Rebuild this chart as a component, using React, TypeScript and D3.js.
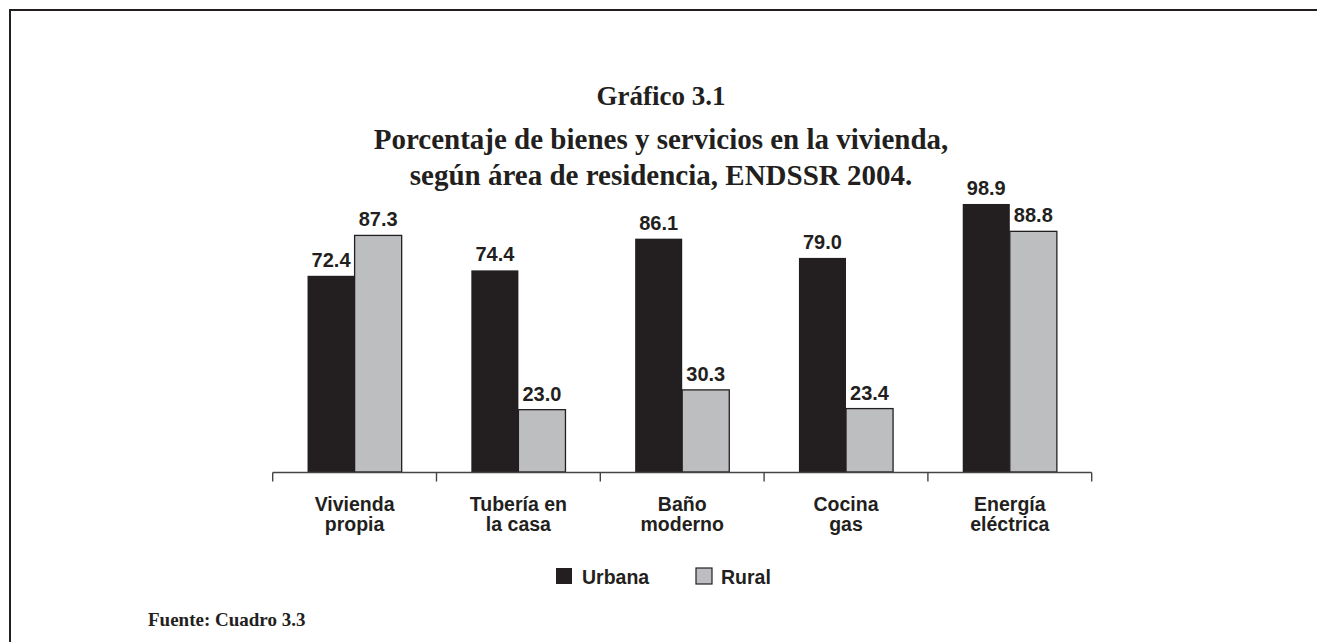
import React from "react";
import * as d3 from "d3";

const categories = ["Vivienda|propia", "Tubería en|la casa", "Baño|moderno", "Cocina|gas", "Energía|eléctrica"];
const seriesNames = ["Urbana", "Rural"];
const urbana = [72.4, 74.4, 86.1, 79.0, 98.9];
const rural = [87.3, 23.0, 30.3, 23.4, 88.8];
const titleLines = [
  "Gráfico 3.1",
  "Porcentaje de bienes y servicios en la vivienda,",
  "según área de residencia, ENDSSR 2004.",
];
const sourceText = "Fuente: Cuadro 3.3";

const W = 1317;
const H = 642;
const DARK = "#231f20";
const GRAY = "#bcbec0";
const SANS = "'Liberation Sans', Arial, Helvetica, sans-serif";
const SERIF = "'Liberation Serif', 'Times New Roman', serif";

export default function App() {
  const x = d3.scaleBand<string>().domain(categories).range([272.7, 1091.7]).padding(0);
  const x1 = d3.scaleBand<string>().domain(seriesNames).range([0, x.bandwidth()]).paddingInner(0).paddingOuter(0.74);
  const y = d3.scaleLinear().domain([0, 100]).range([472, 201]);
  const values: Record<string, number[]> = { Urbana: urbana, Rural: rural };
  const fills: Record<string, string> = { Urbana: DARK, Rural: GRAY };
  const axisY = 472.5;
  const tickXs = [...categories.map((c) => x(c)!), x(categories[categories.length - 1])! + x.bandwidth()];

  return (
    <svg width={W} height={H} style={{ position: "absolute", left: 0, top: 0, background: "#fff" }}>
      <rect x={0} y={0} width={W} height={H} fill="#fff" />
      <path d={`M10,${H} L10,10 L${W},10`} fill="none" stroke={DARK} strokeWidth={2} />
      <g fontFamily={SERIF} fontWeight="bold" fill={DARK} textAnchor="middle">
        <text x={661} y={105} fontSize={27}>{titleLines[0]}</text>
        <text x={661} y={149} fontSize={29}>{titleLines[1]}</text>
        <text x={661} y={185} fontSize={29}>{titleLines[2]}</text>
      </g>
      {categories.map((c, i) => (
        <g key={c} transform={`translate(${x(c)},0)`}>
          {seriesNames.map((s) => {
            const v = values[s][i];
            const bx = x1(s)!;
            const bw = x1.bandwidth();
            return (
              <g key={s}>
                <rect
                  x={bx}
                  y={y(v)}
                  width={bw}
                  height={y(0) - y(v)}
                  fill={fills[s]}
                  stroke={s === "Rural" ? DARK : "none"}
                  strokeWidth={1.3}
                />
                <text
                  x={bx + bw / 2}
                  y={y(v) - 9}
                  textAnchor="middle"
                  fontFamily={SANS}
                  fontWeight="bold"
                  fontSize={20}
                  fill={DARK}
                >
                  {v.toFixed(1)}
                </text>
              </g>
            );
          })}
          {c.split("|").map((line, j) => (
            <text
              key={j}
              x={x.bandwidth() / 2}
              y={511 + j * 20}
              textAnchor="middle"
              fontFamily={SANS}
              fontWeight="bold"
              fontSize={19.5}
              fill={DARK}
            >
              {line}
            </text>
          ))}
        </g>
      ))}
      <line x1={tickXs[0]} x2={tickXs[tickXs.length - 1]} y1={axisY} y2={axisY} stroke="#444" strokeWidth={1.6} />
      {tickXs.map((tx, i) => (
        <line key={i} x1={tx} x2={tx} y1={axisY} y2={axisY + 9} stroke="#444" strokeWidth={1.4} />
      ))}
      <g fontFamily={SANS} fontWeight="bold" fontSize={19.5} fill={DARK}>
        <rect x={556} y={568} width={16} height={16} fill={DARK} />
        <text x={582} y={584}>{seriesNames[0]}</text>
        <rect x={696} y={568} width={16} height={16} fill={GRAY} stroke={DARK} strokeWidth={1.2} />
        <text x={721} y={584}>{seriesNames[1]}</text>
      </g>
      <text x={148} y={626} fontFamily={SERIF} fontWeight="bold" fontSize={19} fill={DARK}>
        {sourceText}
      </text>
    </svg>
  );
}
